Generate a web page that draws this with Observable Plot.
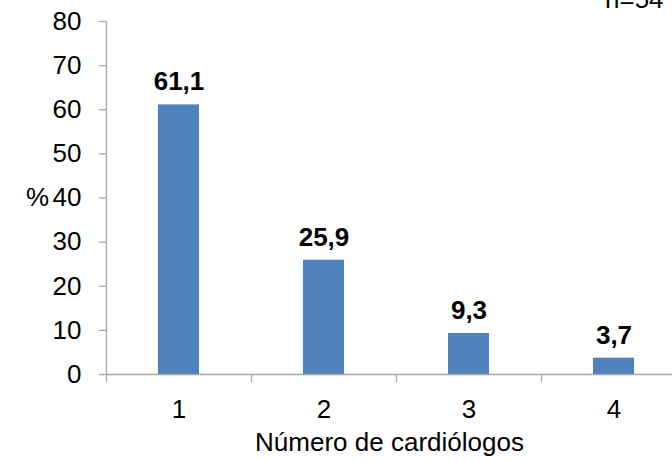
<!DOCTYPE html>
<html><head><meta charset="utf-8">
<script src="https://cdn.jsdelivr.net/npm/d3@7"></script>
<script src="https://cdn.jsdelivr.net/npm/@observablehq/plot@0.6"></script>
<style>
body{margin:0;background:#fff;font-family:"Liberation Sans",Arial,sans-serif;}
#wrap{position:relative;width:672px;height:462px;overflow:hidden;}
#n{position:absolute;left:605px;top:-16px;font-size:26px;line-height:30px;color:#000;}
</style></head>
<body><div id="wrap"><div id="n">n=54</div></div>
<script>
const categories = ["1","2","3","4"];
const values = [61.1, 25.9, 9.3, 3.7];
const labels = ["61,1","25,9","9,3","3,7"];
const yTicks = [0,10,20,30,40,50,60,70,80];
const data = categories.map((c,i)=>({cat:c, v:values[i], lab:labels[i]}));
const gray = "#a6a6a6";
const chart = Plot.plot({
  width: 672, height: 462,
  marginTop: 21, marginBottom: 88, marginLeft: 106, marginRight: 0,
  style: {fontFamily: "'Liberation Sans', Arial, sans-serif", fontSize: "26px", color:"#000", background:"#fff"},
  x: {domain: categories, range: [106, 686], padding: 0, label: null},
  y: {domain: [0, 80], label: null},
  marks: [
    Plot.frame({anchor: "left", stroke: gray, strokeWidth: 1.3}),
    Plot.axisY({ticks: yTicks, tickSize: 7, tickPadding: 18, stroke: gray, strokeWidth: 1.3, fontSize: 26, label: null}),
    Plot.barY(data, {x: "cat", y: "v", fill: "#4f81bd", insetLeft: 52, insetRight: 52}),
    Plot.ruleY([0], {stroke: gray, strokeWidth: 1.3}),
    Plot.ruleX(data, {x: "cat", y1: 0, y2: -1.8, dx: -72.5, stroke: gray, strokeWidth: 1.3}),
    Plot.text(data, {x: "cat", y: "v", text: "lab", dy: -23, fontWeight: "bold", fontSize: 26}),
    Plot.axisX({tickSize: 0, tickPadding: 25, fontSize: 26, label: null}),
    Plot.text(["Número de cardiólogos"], {frameAnchor: "bottom", dy: 76, fontSize: 26}),
    Plot.text(["%"], {frameAnchor: "left", y: 40, dx: -69, textAnchor: "middle", fontSize: 26})
  ]
});
document.getElementById("wrap").prepend(chart);
</script></body></html>
